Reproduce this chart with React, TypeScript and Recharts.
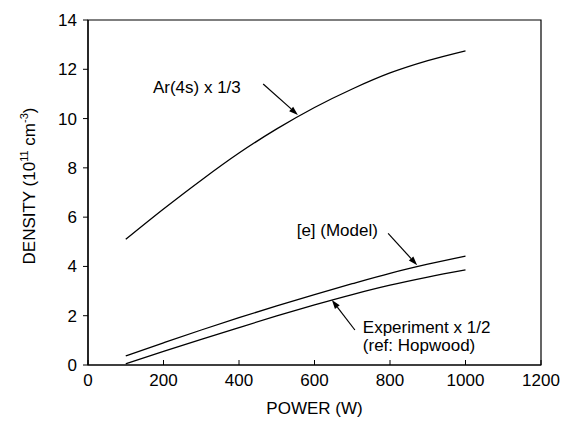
import React from 'react';
import {
  LineChart,
  Line,
  XAxis,
  YAxis,
  ReferenceArea,
  ReferenceLine,
  ReferenceDot,
} from 'recharts';

const power = [100, 200, 300, 400, 500, 600, 700, 800, 900, 1000];
const ar4s = [5.1, 6.33, 7.5, 8.6, 9.58, 10.45, 11.2, 11.85, 12.35, 12.75];
const model = [0.37, 0.9, 1.42, 1.92, 2.4, 2.86, 3.3, 3.72, 4.09, 4.42];
const experiment = [0.05, 0.55, 1.04, 1.52, 1.99, 2.44, 2.86, 3.24, 3.57, 3.86];

const xTicks = [0, 200, 400, 600, 800, 1000, 1200];
const yTicks = [0, 2, 4, 6, 8, 10, 12, 14];

// annotation arrows and labels, in data units
const arrows = [
  { from: [464, 11.4], to: [556, 10.15] },
  { from: [795, 5.34], to: [872, 4.05] },
  { from: [707, 1.42], to: [646, 2.64] },
];
const notes = [
  { x: 172, y: 11.28, text: 'Ar(4s) x 1/3', anchor: 'start' },
  { x: 768, y: 5.48, text: '[e] (Model)', anchor: 'end' },
  { x: 728, y: 1.54, text: 'Experiment x 1/2', anchor: 'start' },
  { x: 728, y: 0.8, text: '(ref: Hopwood)', anchor: 'start' },
];

const data = power.map((p, i) => ({
  power: p,
  ar: ar4s[i],
  model: model[i],
  exp: experiment[i],
}));

const FONT = 'Liberation Sans, Arial, Helvetica, sans-serif';

const XTick = (props: any) => {
  const { x, y, payload } = props;
  return (
    <g>
      <line x1={x} y1={y} x2={x} y2={y - 5} stroke="#000" strokeWidth={1} />
      <text x={x} y={y + 21} textAnchor="middle" fontSize={17} fontFamily={FONT} fill="#000">
        {payload.value}
      </text>
    </g>
  );
};

const YTick = (props: any) => {
  const { x, y, payload } = props;
  return (
    <g>
      <line x1={x} y1={y} x2={x - 5} y2={y} stroke="#000" strokeWidth={1} />
      <text x={x - 11} y={y + 6} textAnchor="end" fontSize={17} fontFamily={FONT} fill="#000">
        {payload.value}
      </text>
    </g>
  );
};

const Arrow = (props: any) => {
  const { x1, y1, x2, y2 } = props;
  const ang = Math.atan2(y2 - y1, x2 - x1);
  const len = 9;
  const half = 3;
  const bx = x2 - len * Math.cos(ang);
  const by = y2 - len * Math.sin(ang);
  const px = -Math.sin(ang) * half;
  const py = Math.cos(ang) * half;
  return (
    <g>
      <line x1={x1} y1={y1} x2={bx} y2={by} stroke="#000" strokeWidth={1.2} />
      <polygon points={`${x2},${y2} ${bx + px},${by + py} ${bx - px},${by - py}`} fill="#000" />
    </g>
  );
};

export default function App() {
  return (
    <div style={{ position: 'absolute', left: 0, top: 0, background: '#fff' }}>
      <LineChart
        width={571}
        height={422}
        data={data}
        margin={{ top: 20, right: 30, bottom: 27, left: 28 }}
      >
        <XAxis
          dataKey="power"
          type="number"
          domain={[0, 1200]}
          ticks={xTicks}
          height={30}
          tickSize={0}
          tickMargin={0}
          tickLine={false}
          axisLine={{ stroke: '#000', strokeWidth: 1.2 }}
          tick={<XTick />}
          label={{
            content: (p: any) => {
              const vb = p.viewBox || { x: 88, y: 365, width: 453 };
              return (
                <text
                  x={vb.x + vb.width / 2}
                  y={vb.y + 49}
                  textAnchor="middle"
                  fontSize={17}
                  fontFamily={FONT}
                  fill="#000"
                >
                  POWER (W)
                </text>
              );
            },
          }}
        />
        <YAxis
          type="number"
          domain={[0, 14]}
          ticks={yTicks}
          width={60}
          tickSize={0}
          tickMargin={0}
          tickLine={false}
          axisLine={{ stroke: '#000', strokeWidth: 1.2 }}
          tick={<YTick />}
          label={{
            content: () => (
              <text
                transform="translate(35, 186) rotate(-90)"
                textAnchor="middle"
                fontSize={17}
                fontFamily={FONT}
                fill="#000"
              >
                DENSITY (10
                <tspan fontSize={11} dy={-7}>11</tspan>
                <tspan dy={7}> cm</tspan>
                <tspan fontSize={11} dy={-7}>-3</tspan>
                <tspan dy={7}>)</tspan>
              </text>
            ),
          }}
        />
        <ReferenceArea x1={0} x2={1200} y1={0} y2={14} fill="none" stroke="#000" strokeWidth={1.2} />
        <Line dataKey="ar" type="monotone" stroke="#000" strokeWidth={1.3} dot={false} isAnimationActive={false} />
        <Line dataKey="model" type="monotone" stroke="#000" strokeWidth={1.3} dot={false} isAnimationActive={false} />
        <Line dataKey="exp" type="monotone" stroke="#000" strokeWidth={1.3} dot={false} isAnimationActive={false} />
        {arrows.map((a, i) => (
          <ReferenceLine
            key={`arrow-${i}`}
            segment={[
              { x: a.from[0], y: a.from[1] },
              { x: a.to[0], y: a.to[1] },
            ]}
            shape={(p: any) => <Arrow {...p} />}
          />
        ))}
        {notes.map((n, i) => (
          <ReferenceDot
            key={`note-${i}`}
            x={n.x}
            y={n.y}
            r={0}
            shape={(p: any) => (
              <text
                x={p.cx}
                y={p.cy + 6}
                textAnchor={n.anchor as any}
                fontSize={17}
                fontFamily={FONT}
                fill="#000"
              >
                {n.text}
              </text>
            )}
          />
        ))}
      </LineChart>
    </div>
  );
}
